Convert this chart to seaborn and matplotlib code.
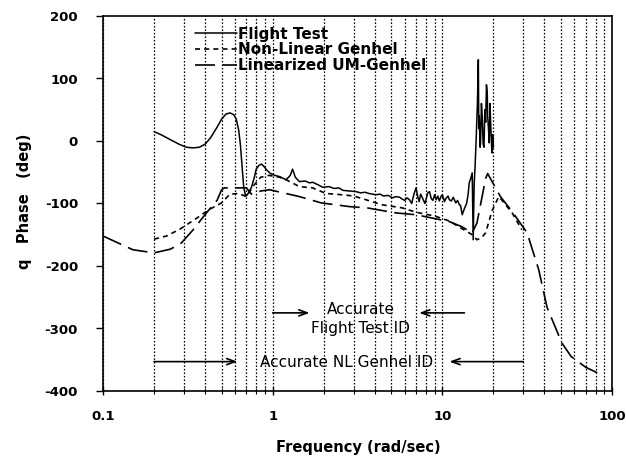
import numpy as np
import pandas as pd
import matplotlib
matplotlib.use("Agg")
import matplotlib.pyplot as plt
from matplotlib.ticker import FixedLocator, LogLocator, NullFormatter, FixedFormatter
import seaborn as sns

# ---------------- data ----------------
ft_freq = [0.2, 0.22, 0.25, 0.28, 0.31, 0.34, 0.37, 0.40, 0.43, 0.47, 0.50, 0.53, 0.56,
           0.59, 0.61, 0.63, 0.645, 0.66, 0.675, 0.69, 0.70, 0.72, 0.75, 0.78, 0.80,
           0.83, 0.86, 0.89, 0.92, 0.97, 1.03, 1.1, 1.2, 1.27, 1.31, 1.36, 1.44, 1.55,
           1.65, 1.72, 1.85, 1.97, 2.15, 2.3, 2.45, 2.6, 2.84, 3.1, 3.3, 3.5, 3.7,
           4.05, 4.3, 4.5, 4.8, 5.08, 5.3, 5.6, 5.8, 6.0, 6.2, 6.4, 6.6, 6.8,
           7.0, 7.15, 7.3, 7.45, 7.6, 7.9, 8.2, 8.4, 8.6, 8.8, 9.0, 9.2, 9.4, 9.6, 9.8,
           10.0, 10.3, 10.5, 10.8, 11.0, 11.3, 11.6, 12.0, 12.3, 12.6, 12.8, 13.1,
           13.5, 13.9, 14.2, 14.4, 14.7, 15.0, 15.2, 15.4, 15.6, 15.8, 16.0, 16.1,
           16.3, 16.4, 16.5, 16.7, 16.8, 17.0, 17.2, 17.4, 17.6, 17.8, 18.0, 18.2,
           18.4, 18.5, 18.7, 18.9, 19.1, 19.3, 19.5, 19.6, 19.8, 20.0]
ft_phase = [15, 10, 2, -5, -10, -11, -10, -5, 5, 22, 35, 43, 45,
            42, 35, 18, -5, -40, -74, -86, -88, -83, -74, -58, -45,
            -39, -37, -41, -46, -52, -55, -57, -62, -55, -45, -58, -65, -64,
            -67, -66, -70, -74, -73, -76, -75, -79, -80, -81, -83, -82, -84,
            -86, -85, -88, -87, -91, -89, -90, -93, -95, -91, -94, -100, -85,
            -75, -88, -97, -85, -90, -100, -83, -81, -92, -95, -86, -94, -88, -96, -89,
            -86, -97, -92, -88, -94, -96, -90, -99, -95, -102, -103, -118,
            -108, -100, -85, -67, -60, -51, -158, -70, -40, -3, 40, 60,
            130, 20, 40, -10, -3, 60, 38, -5, -10, 50, 30, 90,
            77, 40, 20, -3, 60, 23, -5, -19, 10, -10]

nl_freq = [0.2, 0.237, 0.284, 0.35, 0.42, 0.5, 0.56, 0.63, 0.7, 0.78, 0.85, 0.95, 1.1,
           1.2, 1.44, 1.72, 2.06, 2.57, 3.0, 3.55, 4.4, 5.8, 7.0, 9.0, 11.0, 13.0, 15.0,
           16.0, 17.0, 18.0, 19.6, 21.5, 22.5, 25.8, 29.4]
nl_phase = [-157, -152, -141, -125, -110, -99, -85, -84, -89, -70, -58, -55, -58,
            -62, -73, -75, -84, -86, -88, -94, -102, -107, -114, -120, -128, -140, -150,
            -158, -155, -147, -112, -89, -95, -115, -142]

lin_freq = [0.1, 0.15, 0.2, 0.25, 0.29, 0.34, 0.41, 0.47, 0.5, 0.52, 0.7, 0.75, 0.85,
            0.96, 1.44, 1.93, 2.84, 3.6, 5.3, 7.0, 11.0, 13.0, 15.0, 16.0, 18.0, 18.5,
            22.0, 25.8, 31.6, 37.0, 41.4, 50.6, 57.5, 70.0, 85.0]
lin_phase = [-152, -174, -179, -173, -163, -142, -114, -95, -78, -75, -75, -85, -80,
             -78, -89, -99, -105, -107, -115, -118, -129, -137, -147, -131, -60, -52,
             -89, -113, -147, -206, -266, -323, -345, -362, -373]

series_labels = ["Flight Test", "Non-Linear Genhel", "Linearized UM-Genhel"]
x_tick_vals = [0.1, 1, 10, 100]
x_tick_labels = ["0.1", "1", "10", "100"]
y_tick_vals = [200, 100, 0, -100, -200, -300, -400]

# ---------------- figure ----------------
sns.set_style("ticks")
plt.rcParams["font.family"] = ["DejaVu Sans"]
plt.rcParams["axes.unicode_minus"] = False
for key in ["text.color", "axes.labelcolor", "xtick.color", "ytick.color",
            "axes.edgecolor"]:
    plt.rcParams[key] = "black"

fig = plt.figure(figsize=(6.26, 4.65), dpi=100)
ax = fig.add_axes([103/626, 1-391/465, (612-103)/626, (391-16)/465])

df_ft = pd.DataFrame({"f": ft_freq, "p": ft_phase})
df_nl = pd.DataFrame({"f": nl_freq, "p": nl_phase})
df_lin = pd.DataFrame({"f": lin_freq, "p": lin_phase})

sns.lineplot(data=df_ft, x="f", y="p", ax=ax, color="k", lw=1.1, sort=False,
             estimator=None, label=series_labels[0])
sns.lineplot(data=df_nl, x="f", y="p", ax=ax, color="k", lw=1.2, sort=False,
             estimator=None, linestyle=(0, (3, 2.5)), label=series_labels[1])
sns.lineplot(data=df_lin, x="f", y="p", ax=ax, color="k", lw=1.2, sort=False,
             estimator=None, linestyle=(0, (12, 4.5)), label=series_labels[2])

ax.set_xscale("log")
ax.set_xlim(0.1, 100)
ax.set_ylim(-400, 200)
ax.set_xlabel("")
ax.set_ylabel("")

ax.xaxis.set_major_locator(FixedLocator(x_tick_vals))
ax.xaxis.set_major_formatter(FixedFormatter(x_tick_labels))
ax.xaxis.set_minor_locator(LogLocator(base=10, subs=np.arange(2, 10)))
ax.xaxis.set_minor_formatter(NullFormatter())
ax.set_yticks(y_tick_vals)

for lab in ax.get_xticklabels() + ax.get_yticklabels():
    lab.set_fontweight("bold")
ax.tick_params(axis="x", which="major", direction="inout", length=6, width=1,
               labelsize=9.5, pad=11, colors="black")
ax.tick_params(axis="x", which="minor", direction="inout", length=4, width=0.8,
               colors="black")
ax.tick_params(axis="y", which="major", direction="out", length=5, width=1,
               labelsize=9.5, pad=13, colors="black")

ax.grid(True, which="both", axis="x", color="k", linestyle=(0, (1.3, 1.5)), lw=0.9)
for s in ax.spines.values():
    s.set_visible(True)
    s.set_linewidth(1.2)
    s.set_color("k")

leg = ax.legend(loc="upper left", bbox_to_anchor=(0.181, 0.972), frameon=False,
                handlelength=2.75, handletextpad=0.05, labelspacing=0.05,
                borderaxespad=0, borderpad=0, prop={"weight": "bold", "size": 11})
for t in leg.get_texts():
    t.set_color("black")

# annotations
arrow_kw = dict(arrowstyle="->,head_length=0.6,head_width=0.22", color="k", lw=1.2,
                shrinkA=0, shrinkB=0)
ax.annotate("", xy=(1.65, -275), xytext=(1.0, -275), arrowprops=arrow_kw)
ax.annotate("", xy=(7.3, -275), xytext=(13.5, -275), arrowprops=arrow_kw)
ax.annotate("", xy=(0.62, -353), xytext=(0.2, -353), arrowprops=arrow_kw)
ax.annotate("", xy=(11.0, -353), xytext=(30.0, -353), arrowprops=arrow_kw)
ax.text(3.3, -285, "Accurate\nFlight Test ID", ha="center", va="center",
        fontsize=11, linespacing=1.35, color="black")
ax.text(2.72, -355, "Accurate NL Genhel ID", ha="center", va="center", fontsize=11,
        color="black")

fig.text(358/626, 1-447/465, "Frequency (rad/sec)", ha="center", va="center",
         fontsize=10.5, fontweight="bold", color="black")
fig.text(25/626, 1-201/465, "q   Phase   (deg)", ha="center", va="center",
         rotation=90, fontsize=10.5, fontweight="bold", color="black")

fig.savefig("out.png", dpi=100)
